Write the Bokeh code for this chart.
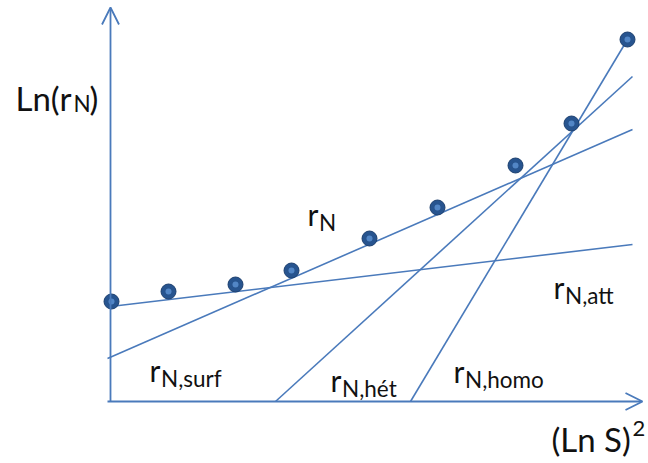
from bokeh.plotting import figure
from bokeh.models import Range1d, Label, Arrow, OpenHead, ColumnDataSource
from bokeh.embed import file_html
from bokeh.resources import INLINE

# ---- data (schematic units) ----
# measured points of ln(rN) versus (ln S)^2
x_pts = [0.1, 5.8, 12.5, 18.1, 25.9, 32.7, 40.5, 46.1, 51.7]
y_pts = [10.0, 11.0, 11.7, 13.1, 16.3, 19.4, 23.6, 27.8, 36.2]

# straight-line contributions
line_names = ["rN,att", "rN,surf", "rN,hét", "rN,homo"]
line_x0 = [0.0, -0.3, 16.5, 30.0]
line_y0 = [9.5, 4.3, 0.0, 0.0]
line_x1 = [52.2, 52.2, 52.2, 51.7]
line_y1 = [15.7, 27.2, 32.5, 36.2]

FONT = "Lato"
TXT = "#111111"
BLUE = "#4a7abb"

W, H = 646, 461
p = figure(width=W, height=H, output_backend="svg", toolbar_location=None,
           x_range=Range1d(-11.0, 53.6), y_range=Range1d(-6.0, 40.1),
           min_border=0, outline_line_color=None)
p.axis.visible = False
p.grid.visible = False
p.background_fill_color = "white"
p.border_fill_color = "white"

src_l = ColumnDataSource(dict(x0=line_x0, y0=line_y0, x1=line_x1, y1=line_y1, name=line_names))
p.segment(x0="x0", y0="y0", x1="x1", y1="y1", source=src_l, line_color=BLUE, line_width=1.6)

# axes with open arrow heads
p.add_layout(Arrow(end=OpenHead(size=17, line_color=BLUE, line_width=1.8),
                   x_start=-0.3, y_start=0, x_end=53.2, y_end=0,
                   line_color=BLUE, line_width=1.8))
p.add_layout(Arrow(end=OpenHead(size=17, line_color=BLUE, line_width=1.8),
                   x_start=0, y_start=0, x_end=0, y_end=39.4,
                   line_color=BLUE, line_width=1.8))

# spheres
src_p = ColumnDataSource(dict(x=x_pts, y=y_pts))
p.scatter(x="x", y="y", source=src_p, size=15, fill_color="#27548f", line_color="#1d406f", line_width=1)
p.scatter(x="x", y="y", source=src_p, size=6, fill_color="#5b8fd0", line_color=None, fill_alpha=0.85)

def lab(text, x, y, size, xo=0, yo=0):
    p.add_layout(Label(x=x, y=y, x_offset=xo, y_offset=yo, text=text,
                       text_font=FONT, text_font_size=f"{size}px", text_color=TXT,
                       text_baseline="alphabetic", text_align="left"))

MAIN, SUB = 30, 22.5
# curve labels: "r" + subscript
for (x, y, sub) in [(19.7, 18.8, "N"), (44.3, 11.5, "N,att"), (3.9, 3.2, "N,surf"),
                    (22.0, 2.2, "N,hét"), (34.3, 3.1, "N,homo")]:
    lab("r", x, y, MAIN)
    lab(sub, x, y, SUB, xo=11.5, yo=-9)

# axis titles
lab("Ln(r", -9.5, 30.4, 33)
lab("N", -9.5, 30.4, 22.5, xo=58, yo=-6)
lab(")", -9.5, 30.4, 33, xo=74)
lab("(Ln S)", 44.1, -3.7, 33)
lab("2", 44.1, -3.7, 22, xo=81, yo=10)

open("out.html", "w").write(file_html(p, INLINE))
